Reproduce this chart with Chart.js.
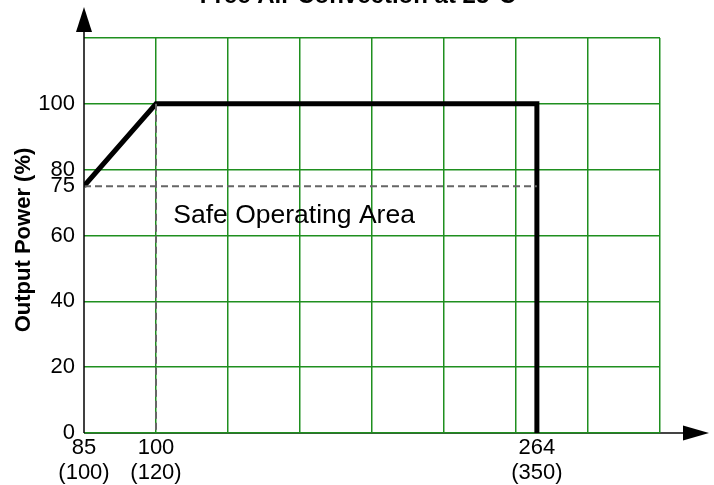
<!DOCTYPE html>
<html>
<head>
<meta charset="utf-8">
<script src="https://cdn.jsdelivr.net/npm/chart.js@4"></script>
<style>
html,body{margin:0;padding:0;background:#fff;}
#wrap{width:714px;height:485px;}
</style>
</head>
<body>
<div id="wrap"><canvas id="c" width="714" height="485"></canvas></div>
<script>
// ---- data ----
const titleText = "Free Air Convection at 25°C";
const yTitle = "Output Power (%)";
const noteText = "Safe Operating Area";

// x axis is drawn in grid slots (8 slots); voltages are labels on them
const xSlots = [0, 1, 6.29, 6.29];          // 85V, 100V, 264V, 264V
const deratePower = [75, 100, 100, 0];

const dashedH_x = [0, 6.29];
const dashedH_y = [75, 75];
const dashedV_x = [1, 1];
const dashedV_y = [100, 0];

const xTickPos = [0, 1, 6.29];
const xTickLabels = [["85", "(100)"], ["100", "(120)"], ["264", "(350)"]];
const yTickValues = [0, 20, 40, 60, 75, 80, 100, 120];
const yTickLabels = ["0", "20", "40", "60", "75", "80", "100", ""];
const yNoGrid = [75];
const xMin = 0, xMax = 8, yMin = 0, yMax = 120;
const notePos = {x: 1.24, y: 66};

const FONT = "'Liberation Sans', Arial, Helvetica, sans-serif";
const GREEN = "#1f8f1f";

function pts(xs, ys){ return xs.map((x,i)=>({x:x, y:ys[i]})); }

const decor = {
  id: 'decor',
  beforeDraw(chart){
    const c = chart.ctx, a = chart.chartArea;
    c.save();
    c.strokeStyle = '#444'; c.lineWidth = 2;
    c.beginPath(); c.moveTo(a.left, a.bottom); c.lineTo(686, a.bottom); c.stroke();
    c.fillStyle = '#000';
    c.beginPath(); c.moveTo(709, a.bottom); c.lineTo(683, a.bottom-7.5); c.lineTo(683, a.bottom+7.5); c.closePath(); c.fill();
    c.restore();
  },
  afterDraw(chart){
    const c = chart.ctx, a = chart.chartArea;
    const xs = chart.scales.x, ys = chart.scales.y;
    c.save();
    c.strokeStyle = '#000'; c.lineWidth = 1.5;
    c.beginPath(); c.moveTo(a.left, a.bottom); c.lineTo(a.left, 30); c.stroke();
    c.fillStyle = '#000';
    c.beginPath(); c.moveTo(a.left, 7); c.lineTo(a.left-8, 32); c.lineTo(a.left+8, 32); c.closePath(); c.fill();
    // title (cut at top)
    c.font = "bold 24px " + FONT;
    c.textAlign = 'center'; c.textBaseline = 'alphabetic';
    c.fillText(titleText, (a.left + a.right)/2 - 14, 3);
    // y title
    c.save();
    c.translate(24, 240);
    c.rotate(-Math.PI/2);
    c.font = "bold 22px " + FONT;
    c.textAlign = 'center'; c.textBaseline = 'middle';
    c.fillText(yTitle, 0, 0);
    c.restore();
    // note
    c.font = "26.5px " + FONT;
    c.textAlign = 'left'; c.textBaseline = 'middle';
    c.fillText(noteText, xs.getPixelForValue(notePos.x), ys.getPixelForValue(notePos.y));
    c.restore();
  }
};

new Chart(document.getElementById('c'), {
  type: 'line',
  data: {
    datasets: [
      { data: pts(dashedH_x, dashedH_y), borderColor: '#666', borderWidth: 2, borderDash: [7,4], pointRadius: 0, fill: false },
      { data: pts(dashedV_x, dashedV_y), borderColor: '#666', borderWidth: 2, borderDash: [7,4], pointRadius: 0, fill: false },
      { data: pts(xSlots, deratePower), borderColor: '#000', borderWidth: 5, pointRadius: 0, fill: false, borderJoinStyle: 'miter', tension: 0 }
    ]
  },
  options: {
    responsive: false,
    animation: false,
    devicePixelRatio: 1,
    layout: { padding: { top: 38, right: 54, left: 0, bottom: 0 } },
    plugins: { legend: { display: false }, tooltip: { enabled: false }, title: { display: false } },
    scales: {
      x: {
        type: 'linear', min: xMin, max: xMax,
        afterBuildTicks(axis){
          const t = [];
          for (let v = xMin; v <= xMax; v++) t.push(v);
          xTickPos.forEach(v => { if (!t.includes(v)) t.push(v); });
          t.sort((p,q)=>p-q);
          axis.ticks = t.map(v => ({value: v}));
        },
        afterFit(axis){ axis.height = 52; },
        border: { display: false },
        grid: {
          drawTicks: false, lineWidth: 1.5,
          color: ctx => {
            const v = ctx.tick ? ctx.tick.value : null;
            if (v === xMin) return 'rgba(0,0,0,0)';
            if (v !== null && !Number.isInteger(v)) return 'rgba(0,0,0,0)';
            return GREEN;
          }
        },
        ticks: {
          autoSkip: false, maxRotation: 0, minRotation: 0, padding: 2,
          color: '#000',
          font: { family: FONT, size: 22, lineHeight: 1.14 },
          callback: v => { const i = xTickPos.indexOf(v); return i >= 0 ? xTickLabels[i] : ''; }
        }
      },
      y: {
        type: 'linear', min: yMin, max: yMax,
        afterBuildTicks(axis){ axis.ticks = yTickValues.map(v => ({value: v})); },
        afterFit(axis){ axis.width = 84; },
        border: { display: false },
        grid: {
          drawTicks: false, lineWidth: 1.5,
          color: ctx => (ctx.tick && yNoGrid.includes(ctx.tick.value)) ? 'rgba(0,0,0,0)' : GREEN
        },
        ticks: {
          autoSkip: false, padding: 9, color: '#000',
          font: { family: FONT, size: 22 },
          callback: v => { const i = yTickValues.indexOf(v); return i >= 0 ? yTickLabels[i] : ''; }
        }
      }
    }
  },
  plugins: [decor]
});
</script>
</body>
</html>
